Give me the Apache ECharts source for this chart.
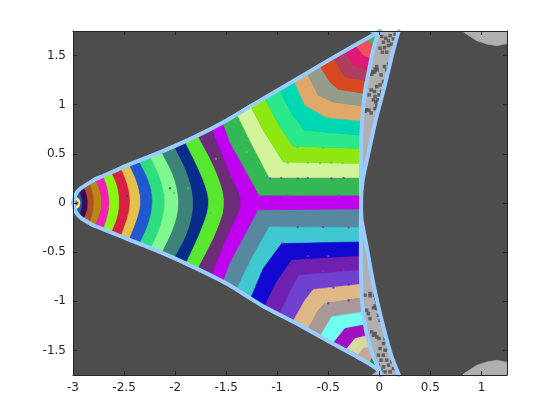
<!DOCTYPE html>
<html><head><meta charset="utf-8">
<style>html,body{margin:0;padding:0;background:#fff}#c{width:560px;height:420px}</style>
<script src="https://cdn.jsdelivr.net/npm/echarts@6/dist/echarts.min.js"></script></head>
<body><div id="c"></div>
<script>
const xTicks = [-3,-2.5,-2,-1.5,-1,-0.5,0,0.5,1];
const yTicks = [-1.5,-1,-0.5,0,0.5,1,1.5];

// boundary curves of the region (x, y)
const upperEdge = [[-3,0],[-2.973,.089],[-2.927,.147],[-2.852,.197],[-2.77,.248],[-2.64,.305],[-2.476,.38],[-2.15,.515],[-1.823,.665],[-1.496,.84],[-1.137,1.062],[-.745,1.3],[-.386,1.52],[-.026,1.73],[.01,1.75]];
const lowerEdge = [[-3,0],[-2.973,-.089],[-2.927,-.147],[-2.852,-.197],[-2.803,-.226],[-2.64,-.294],[-2.476,-.362],[-2.15,-.497],[-1.823,-.65],[-1.496,-.82],[-1.137,-1.05],[-.81,-1.226],[-.484,-1.413],[-.157,-1.6],[-.01,-1.7],[.01,-1.75]];
const innerCurve = [[0,1.75],[-.02,1.706],[-.069,1.52],[-.101,1.351],[-.134,1.181],[-.15,1.045],[-.167,.876],[-.176,.673],[-.181,.232],[-.179,0],[-.181,-.209],[-.181,-.65],[-.173,-.955],[-.157,-1.125],[-.124,-1.328],[-.075,-1.514],[.006,-1.718],[.01,-1.75]];
const outerCurve = [[.19,1.75],[.186,1.74],[.128,1.52],[.049,1.181],[-.036,.842],[-.108,.503],[-.163,.232],[-.179,0],[-.173,-.175],[-.124,-.447],[-.059,-.82],[.039,-1.26],[.121,-1.565],[.186,-1.735],[.19,-1.75]];

// chevron-shaped band borders, left to right
const chevrons = [
 [[-3,0]],
 [[-2.973,.069],[-2.934,.045],[-2.924,0],[-2.934,-.045],[-2.973,-.069]],
 [[-2.94,.123],[-2.914,.062],[-2.908,0],[-2.914,-.06],[-2.94,-.125]],
 [[-2.895,.163],[-2.859,.079],[-2.852,0],[-2.859,-.08],[-2.895,-.169]],
 [[-2.836,.21],[-2.803,.096],[-2.793,0],[-2.803,-.09],[-2.836,-.21]],
 [[-2.787,.25],[-2.731,.13],[-2.715,0],[-2.731,-.11],[-2.787,-.24]],
 [[-2.705,.28],[-2.656,.147],[-2.64,0],[-2.656,-.13],[-2.705,-.27]],
 [[-2.623,.315],[-2.558,.164],[-2.542,0],[-2.558,-.142],[-2.623,-.301]],
 [[-2.53,.36],[-2.454,.164],[-2.437,0],[-2.46,-.142],[-2.53,-.341]],
 [[-2.45,.395],[-2.362,.198],[-2.329,0],[-2.372,-.175],[-2.45,-.375]],
 [[-2.355,.435],[-2.241,.198],[-2.215,0],[-2.254,-.209],[-2.35,-.419]],
 [[-2.245,.48],[-2.133,.232],[-2.091,0],[-2.14,-.243],[-2.24,-.464]],
 [[-2.135,.525],[-2.003,.266],[-1.954,0],[-2.003,-.243],[-2.13,-.511]],
 [[-2.01,.58],[-1.872,.3],[-1.806,0],[-1.872,-.311],[-2.01,-.565]],
 [[-1.905,.63],[-1.731,.266],[-1.653,0],[-1.741,-.277],[-1.895,-.62]],
 [[-1.78,.69],[-1.594,.333],[-1.496,0],[-1.594,-.311],[-1.78,-.677]],
 [[-1.648,.76],[-1.464,.283],[-1.33,0],[-1.464,-.26],[-1.65,-.745]]
];
const chevronColors = ['#f8f880','#1860b0','#400a50','#b05028','#b88810','#f020b8','#88f810','#d82040','#e4c04c','#2058d0','#30dc80','#80f890','#3c8478','#082c8c','#58e830','#6c2c78'];

// borders of the bands in the upper arm, from the fork outwards
const upperBorders = [
 [[-1.53,.815],[-1.464,.622],[-1.176,.079],[-.17,.079]],
 [[-1.399,.913],[-1.252,.605],[-1.078,.259],[-.18,.259]],
 [[-1.268,1.0],[-1.137,.74],[-.941,.418],[-.18,.401]],
 [[-1.13,1.079],[-.974,.774],[-.843,.578],[-.18,.554]],
 [[-.985,1.164],[-.859,.91],[-.729,.74],[-.18,.689]],
 [[-.84,1.252],[-.729,.995],[-.516,.869],[-.17,.835]],
 [[-.71,1.327],[-.598,1.096],[-.451,1.028],[-.155,.984]],
 [[-.585,1.401],[-.484,1.232],[-.402,1.157],[-.14,1.113]],
 [[-.455,1.476],[-.337,1.283],[-.12,1.242]],
 [[-.335,1.55],[-.255,1.401],[-.09,1.357]],
 [[-.235,1.608],[-.157,1.503],[-.06,1.469]],
 [[-.13,1.669],[-.04,1.595]],
 [[-.02,1.73]]
];
const upperColors = ['#34b854','#d4f49c','#8ce810','#2ce88c','#00d8b4','#e0a868','#949c8c','#d84820','#b03c60','#e01878','#f05058','#50b060'];

const lowerBorders = [
 [[-1.53,-.803],[-1.464,-.616],[-1.186,-.074],[-.17,-.067]],
 [[-1.405,-.891],[-1.252,-.565],[-1.078,-.243],[-.18,-.25]],
 [[-1.261,-.972],[-1.137,-.667],[-.957,-.413],[-.18,-.396]],
 [[-1.121,-1.047],[-1.006,-.803],[-.859,-.582],[-.18,-.541]],
 [[-.974,-1.128],[-.859,-.87],[-.784,-.735],[-.18,-.684]],
 [[-.843,-1.2],[-.729,-.989],[-.647,-.88],[-.18,-.826]],
 [[-.696,-1.277],[-.598,-1.091],[-.533,-1.023],[-.17,-.965]],
 [[-.575,-1.345],[-.467,-1.158],[-.15,-1.108]],
 [[-.444,-1.416],[-.337,-1.277],[-.13,-1.236]],
 [[-.32,-1.484],[-.238,-1.379],[-.105,-1.345]],
 [[-.206,-1.545],[-.157,-1.48],[-.08,-1.464]],
 [[-.098,-1.64],[-.075,-1.582],[-.036,-1.592]],
 [[-.01,-1.684]]
];
const lowerColors = ['#5888a0','#40c8d0','#1008d0','#7020b0','#7040d0','#e0b888','#a89898','#70fff0','#a010c0','#d8d8a0','#c8a898','#10a040'];
const forkColor = '#c000f0';

// light grey patches
const cornerTop = [[.824,1.75],[.824,1.74],[.889,1.695],[.955,1.65],[1.053,1.617],[1.151,1.6],[1.25,1.622],[1.25,1.75]];
const cornerBottom = [[.824,-1.75],[.824,-1.74],[.889,-1.695],[.955,-1.65],[1.053,-1.617],[1.151,-1.6],[1.25,-1.622],[1.25,-1.75]];
const capTop = [[-.107,1.75],[.01,1.75],[0,1.69]];
const capBottom = [[-.07,-1.75],[.01,-1.75],[0,-1.69]];

// dark cells in the grey strip
const specks = [[.023,1.693],[.063,1.676],[.105,1.703],[.138,1.669],[.089,1.649],[.04,1.636],[.154,1.717],[.007,1.575],[.05,1.581],[.089,1.602],[.121,1.615],[.03,1.534],[.072,1.534],[-.026,1.388],[-.042,1.364],[-.068,1.337],[-.022,1.354],[-.048,1.331],[-.075,1.31],[.05,1.388],[.089,1.412],[.072,1.354],[.017,1.303],[.04,1.236],[.007,1.202],[.056,1.185],[-.026,1.185],[-.081,1.151],[-.048,1.134],[-.1,1.1],[-.042,1.083],[-.003,1.1],[-.016,1.049],[.023,1.134],[-.058,1.049],[-.035,1.028],[-.026,.994],[-.042,.96],[-.124,.95],[-.101,.943],[-.081,.916],[-.14,.933],[-.14,-.938],[-.091,-.921],[-.048,-.938],[-.035,-.972],[-.026,-1.006],[-.042,-1.047],[-.091,-.945],[-.124,-1.091],[-.107,-1.125],[-.058,-1.067],[-.026,-1.074],[-.009,-1.142],[.007,-1.193],[-.091,-1.176],[-.075,-1.311],[-.042,-1.328],[-.026,-1.362],[-.058,-1.345],[-.003,-1.379],[.056,-1.379],[.072,-1.413],[.04,-1.43],[.007,-1.481],[.056,-1.498],[.089,-1.481],[-.009,-1.548],[.04,-1.548],[.017,-1.599],[.072,-1.599],[.121,-1.616],[.089,-1.65],[.04,-1.667],[-.009,-1.65],[.138,-1.684],[.105,-1.718],[.056,-1.718],[.017,-1.701]];
const tipMark = [[-2.97,0]];

// stray cells along band borders
const magentaDots = [[-1.07,.25],[-.96,.255],[-.8,.25],[-.7,.255],[-.47,.25],[-.35,.255],[-.9,.075],[-.6,-.06],[-.4,.075],[-.95,-.41],[-.8,-.245],[-.55,-.245],[-.3,-.25],[-.7,-.54],[-.5,-.54],[-.35,-.68],[-.55,-.69]];
const greenDots = [[-.9,.41],[-.7,.41],[-.58,.405],[-.47,.41],[-.36,.405],[-.8,.57],[-.55,.56],[-.6,.72],[-1.3,.52],[-1.65,-.1],[-1.87,.15],[-2.01,.1],[-1.6,.45]];
const blueDots = [[-.7,-.885],[-.45,-.86],[-.3,-.83],[-.5,-1.02],[-.3,-.99],[-2.05,.15],[-2.47,.07],[-1.75,.2]];

const BG='#4d4d4d', GREY='#b0b0b0', EDGE='#99ccff', AX='#262626';

// corner rounding of a drawn border; its ends stay where they are
const roundBorder = pts=>{
  let p=pts;
  for(let n=0;n<2&&p.length>2;n++){
    const q=[p[0]];
    for(let i=0;i<p.length-1;i++){
      const a=p[i],b=p[i+1];
      q.push([a[0]*.75+b[0]*.25,a[1]*.75+b[1]*.25],[a[0]*.25+b[0]*.75,a[1]*.25+b[1]*.75]);
    }
    q.push(p[p.length-1]);
    p=q;
  }
  return p;
};
const between = (a,b)=>a.concat(b.slice().reverse());
const polys=[], fills=[];
const add=(p,c)=>{polys.push(p);fills.push(c);};
const drawnChevrons = chevrons.map(roundBorder);
add(drawnChevrons[16].concat(lowerBorders[0], upperBorders[0].slice().reverse()),forkColor);
chevronColors.forEach((c,i)=>add(between(drawnChevrons[i],drawnChevrons[i+1]),c));
upperColors.forEach((c,i)=>add(between(upperBorders[i],upperBorders[i+1]),c));
lowerColors.forEach((c,i)=>add(between(lowerBorders[i],lowerBorders[i+1]),c));
add(between(innerCurve,outerCurve),GREY);
[cornerTop,cornerBottom,capTop,capBottom].forEach(p=>add(p,GREY));

const edgeLine = d=>({type:'line',data:d,showSymbol:false,symbol:'none',clip:false,silent:true,animation:false,smooth:0.2,
  lineStyle:{color:EDGE,width:4,cap:'round',join:'round'}});
const dots = (d,c,s)=>({type:'scatter',data:d,symbol:'rect',symbolSize:s,silent:true,clip:true,animation:false,itemStyle:{color:c}});

const chart = echarts.init(document.getElementById('c'),null,{renderer:'canvas'});
const tick = v=>({customValues:v,show:true,inside:true,length:4,lineStyle:{color:AX,width:1}});
const label = v=>({customValues:v,color:AX,fontFamily:'DejaVu Sans',fontSize:12,margin:7});
const line = {show:true,onZero:false,lineStyle:{color:AX,width:1}};
chart.setOption({
  animation:false,
  grid:{left:73,right:53,top:31,bottom:45,show:true,backgroundColor:BG,borderWidth:0,containLabel:false},
  xAxis:[
    {type:'value',min:-3,max:1.25,position:'bottom',splitLine:{show:false},axisLine:line,axisTick:tick(xTicks),axisLabel:label(xTicks),z:10},
    {type:'value',min:-3,max:1.25,position:'top',splitLine:{show:false},axisLine:line,axisTick:tick(xTicks),axisLabel:{show:false},z:10}
  ],
  yAxis:[
    {type:'value',min:-1.75,max:1.75,position:'left',splitLine:{show:false},axisLine:line,axisTick:tick(yTicks),axisLabel:label(yTicks),z:10},
    {type:'value',min:-1.75,max:1.75,position:'right',splitLine:{show:false},axisLine:line,axisTick:tick(yTicks),axisLabel:{show:false},z:10}
  ],
  series:[
    {type:'custom',silent:true,clip:true,animation:false,coordinateSystem:'cartesian2d',
     data:polys.map((p,i)=>[p[0][0],p[0][1],i]),encode:{x:0,y:1},
     renderItem:(params,api)=>{
       const i=params.dataIndex;
       return {type:'polygon',shape:{points:polys[i].map(q=>api.coord(q))},
         style:{fill:fills[i],stroke:fills[i],lineWidth:0.6}};
     }},
    dots(specks,BG,3.5),
    dots(magentaDots,'#a020e0',2),dots(greenDots,'#50d050',2),dots(blueDots,'#3030c0',2),
    edgeLine(upperEdge),edgeLine(lowerEdge),edgeLine(innerCurve),edgeLine(outerCurve),
    {type:'scatter',data:tipMark,symbol:'diamond',symbolSize:6,silent:true,animation:false,clip:false,itemStyle:{color:'#a01080'}}
  ]
});
</script></body></html>
